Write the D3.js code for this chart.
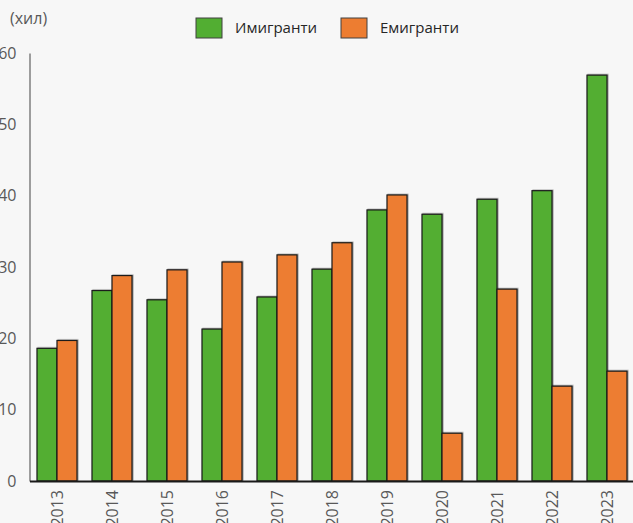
<!DOCTYPE html>
<html>
<head>
<meta charset="utf-8">
<script src="https://cdn.jsdelivr.net/npm/d3@7"></script>
<style>
  body { margin: 0; background: #f7f7f7; }
  svg { display: block; font-family: "Open Sans", "Noto Sans", sans-serif; }
</style>
</head>
<body>
<svg width="633" height="523"></svg>
<script>
var years = ["2013", "2014", "2015", "2016", "2017", "2018", "2019", "2020", "2021", "2022", "2023"];
var immigrants = [18.6, 26.7, 25.4, 21.3, 25.8, 29.7, 38.0, 37.4, 39.5, 40.7, 56.9];
var emigrants = [19.7, 28.8, 29.6, 30.7, 31.7, 33.4, 40.1, 6.7, 26.9, 13.3, 15.4];
var seriesNames = ["Имигранти", "Емигранти"];
var colors = ["#52ae32", "#ed7d31"];
var yTicks = [0, 10, 20, 30, 40, 50, 60];

var svg = d3.select("svg");
var x0 = 29.5, yBase = 481, yTop = 53;

var xScale = d3.scaleBand()
	.domain(years)
	.range([x0, x0 + 605])
	.paddingInner(15 / 55)
	.paddingOuter(7.5 / 55);

var xSub = d3.scaleBand()
	.domain([0, 1])
	.range([0, xScale.bandwidth()]);

var yScale = d3.scaleLinear()
	.domain([0, 60])
	.range([yBase, yTop]);

// subtle shadow under bars
var defs = svg.append("defs");
var f = defs.append("filter").attr("id", "sh")
	.attr("x", "-20%").attr("y", "-5%").attr("width", "140%").attr("height", "110%");
f.append("feDropShadow")
	.attr("dx", 1).attr("dy", -0.5).attr("stdDeviation", 0.6)
	.attr("flood-color", "#000").attr("flood-opacity", 0.35);

// y axis
var yAxis = d3.axisLeft(yScale).tickValues(yTicks).tickSize(0).tickPadding(13);
var gy = svg.append("g")
	.attr("transform", "translate(" + x0 + ",0)")
	.call(yAxis);
gy.select(".domain").attr("stroke", "#7f7f7f").attr("stroke-width", 1.5);
gy.selectAll("text")
	.attr("fill", "#595959")
	.style("font-size", "16px")
	.attr("font-family", "Open Sans");

svg.append("text")
	.attr("x", 10).attr("y", 24)
	.attr("fill", "#595959")
	.style("font-size", "16px")
	.text("(хил)");

// bars
var groups = svg.append("g").selectAll("g")
	.data(years)
	.join("g")
	.attr("transform", function (d) { return "translate(" + xScale(d) + ",0)"; });

groups.selectAll("rect")
	.data(function (d, i) { return [immigrants[i], emigrants[i]]; })
	.join("rect")
	.attr("x", function (d, j) { return xSub(j); })
	.attr("y", function (d) { return yScale(d); })
	.attr("width", xSub.bandwidth())
	.attr("height", function (d) { return yBase - yScale(d); })
	.attr("fill", function (d, j) { return colors[j]; })
	.attr("stroke", "#1a1a1a")
	.attr("stroke-width", 1.2)
	.attr("filter", "url(#sh)");

// x axis
var xAxis = d3.axisBottom(xScale).tickSize(0).tickPadding(0);
var gx = svg.append("g")
	.attr("transform", "translate(0," + yBase + ")")
	.call(xAxis);
gx.select(".domain").attr("stroke", "#1a1a1a").attr("stroke-width", 2);
gx.selectAll("text")
	.attr("fill", "#595959")
	.style("font-size", "16px")
	.attr("font-family", "Open Sans")
	.attr("transform", "rotate(-90)")
	.attr("x", -9)
	.attr("y", 0)
	.attr("dy", "0.35em")
	.style("text-anchor", "end");

// legend
var legend = svg.append("g");
var legX = [196, 341];
seriesNames.forEach(function (name, i) {
	var g = legend.append("g").attr("transform", "translate(" + legX[i] + ",18)");
	g.append("rect")
		.attr("width", 26).attr("height", 20)
		.attr("fill", colors[i])
		.attr("stroke", "#404040")
		.attr("stroke-width", 1);
	g.append("text")
		.attr("x", 39).attr("y", 10)
		.attr("dy", "0.35em")
		.attr("fill", "#262626")
		.style("font-size", "15px")
		.text(name);
});
</script>
</body>
</html>
